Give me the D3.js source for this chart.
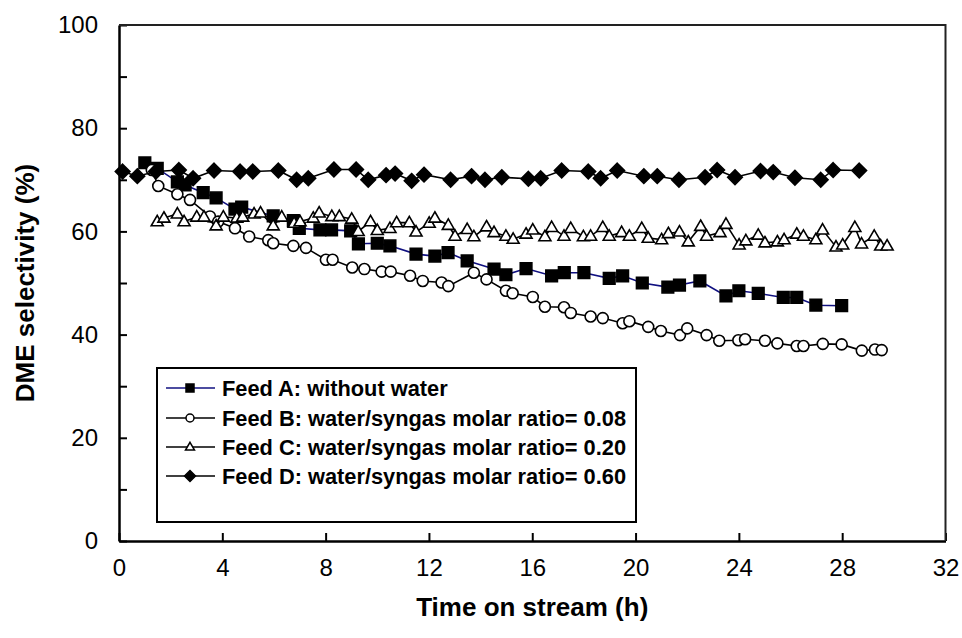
<!DOCTYPE html>
<html>
<head>
<meta charset="utf-8">
<script src="https://cdn.jsdelivr.net/npm/d3@7"></script>
<style>
  body { margin: 0; background: #fff; }
  svg { display: block; }
  text { font-family: "Liberation Sans", Arial, sans-serif; }
</style>
</head>
<body>
<svg id="chart" width="962" height="638"></svg>
<script>
// Feed A: without water
const timeA = [1.0, 1.48, 2.26, 2.56, 3.26, 3.76, 4.49, 4.75, 5.97, 6.75, 6.98, 7.78, 8.23, 8.97, 9.27, 10.0, 10.49, 11.5, 12.23, 12.74, 13.48, 14.52, 14.98, 15.76, 16.75, 17.24, 18.0, 18.98, 19.5, 20.26, 21.25, 21.7, 22.49, 23.5, 24.0, 24.75, 25.72, 26.24, 26.98, 27.98];
const selA  = [73.3, 72.2, 69.6, 69.0, 67.5, 66.5, 64.3, 64.7, 63.0, 62.1, 60.6, 60.3, 60.3, 60.1, 57.6, 57.7, 57.2, 55.6, 55.2, 55.9, 54.3, 52.7, 51.6, 52.8, 51.4, 52.0, 52.0, 50.9, 51.4, 50.0, 49.2, 49.6, 50.4, 47.5, 48.5, 48.0, 47.2, 47.2, 45.7, 45.6];

// Feed B: ratio 0.08
const timeB = [1.27, 1.52, 2.26, 2.75, 3.52, 3.84, 4.49, 5.04, 5.78, 5.97, 6.75, 7.24, 8.01, 8.27, 9.03, 9.5, 10.17, 10.52, 11.27, 11.76, 12.49, 12.75, 13.74, 14.23, 14.98, 15.24, 16.02, 16.49, 17.23, 17.49, 18.26, 18.73, 19.5, 19.76, 20.49, 20.98, 21.72, 22.0, 22.75, 23.24, 23.98, 24.24, 25.01, 25.49, 26.24, 26.5, 27.25, 27.98, 28.76, 29.27, 29.53];
const selB  = [71.9, 68.8, 67.2, 66.1, 62.9, 61.9, 60.6, 59.0, 58.3, 57.7, 57.2, 56.8, 54.5, 54.5, 53.0, 52.7, 52.2, 52.2, 51.4, 50.4, 50.1, 49.4, 52.0, 50.7, 48.5, 48.0, 47.3, 45.4, 45.3, 44.2, 43.5, 43.2, 42.2, 42.6, 41.5, 40.7, 39.9, 41.2, 39.9, 38.8, 38.9, 39.1, 38.8, 38.3, 37.8, 37.8, 38.2, 38.1, 36.9, 37.1, 37.0];

// Feed C: ratio 0.20
const timeC = [1.48, 1.74, 2.26, 2.52, 3.01, 3.29, 3.76, 4.04, 4.56, 4.79, 5.23, 5.48, 5.97, 6.3, 6.78, 7.01, 7.52, 7.75, 8.24, 8.53, 9.01, 9.26, 9.74, 10.0, 10.49, 10.75, 11.24, 11.5, 12.01, 12.23, 12.75, 13.01, 13.48, 13.74, 14.23, 14.52, 14.98, 15.26, 15.76, 16.02, 16.49, 16.75, 17.23, 17.49, 17.98, 18.26, 18.73, 18.98, 19.46, 19.76, 20.24, 20.49, 21.01, 21.27, 21.7, 22.04, 22.52, 22.75, 23.27, 23.5, 24.01, 24.27, 24.75, 25.01, 25.49, 25.75, 26.24, 26.5, 26.98, 27.24, 27.76, 28.02, 28.49, 28.75, 29.24, 29.49, 29.74];
const selC  = [61.9, 62.6, 63.4, 61.9, 62.8, 62.8, 61.1, 62.8, 62.6, 62.8, 63.4, 63.6, 61.1, 62.8, 61.6, 61.9, 62.6, 63.6, 62.9, 62.9, 62.4, 60.0, 61.9, 60.2, 60.6, 61.7, 61.7, 59.9, 61.6, 62.6, 61.2, 59.1, 60.4, 59.0, 60.9, 59.8, 59.1, 58.5, 59.5, 60.3, 59.0, 60.8, 59.1, 60.6, 59.0, 59.1, 60.8, 59.1, 59.8, 59.1, 60.6, 58.7, 58.4, 59.6, 59.9, 58.0, 61.0, 59.1, 59.8, 61.4, 57.4, 58.2, 59.3, 57.8, 58.0, 58.4, 59.5, 59.1, 58.4, 60.3, 57.0, 57.4, 60.8, 57.6, 59.1, 57.2, 57.2];

// Feed D: ratio 0.60
const timeD = [0.14, 0.71, 1.43, 2.32, 2.87, 3.68, 4.69, 5.18, 6.17, 6.88, 7.33, 8.32, 9.18, 9.65, 10.34, 10.69, 11.33, 11.81, 12.84, 13.65, 14.17, 14.82, 15.85, 16.33, 17.14, 18.17, 18.65, 19.29, 20.32, 20.84, 21.68, 22.69, 23.16, 23.85, 24.84, 25.33, 26.17, 27.17, 27.65, 28.66];
const selD  = [71.6, 70.7, 71.6, 71.9, 70.3, 71.8, 71.6, 71.6, 71.8, 70.0, 70.3, 72.0, 72.0, 70.0, 70.9, 71.2, 69.8, 71.0, 70.0, 70.7, 70.0, 70.5, 70.2, 70.3, 71.8, 71.6, 70.3, 71.8, 70.7, 70.7, 70.0, 70.5, 71.9, 70.5, 71.7, 71.5, 70.4, 70.0, 71.9, 71.8];

const legendLabels = [
  "Feed A: without water",
  "Feed B: water/syngas molar ratio= 0.08",
  "Feed C: water/syngas molar ratio= 0.20",
  "Feed D: water/syngas molar ratio= 0.60"
];
const xTicks = [0, 4, 8, 12, 16, 20, 24, 28, 32];
const yTicks = [0, 10, 20, 30, 40, 50, 60, 70, 80, 90, 100];

const svg = d3.select("#chart");
const plotL = 119, plotR = 945.5, plotT = 25, plotB = 541;

const x = d3.scaleLinear().domain([0, 32]).range([plotL, plotR]);
const y = d3.scaleLinear().domain([0, 100]).range([plotB, plotT]);

// marker shapes
function markerPath(kind, s) {
  if (kind === "square") return `M${-s},${-s}H${s}V${s}H${-s}Z`;
  if (kind === "diamond") return `M0,${-s}L${s},0L0,${s}L${-s},0Z`;
  if (kind === "triangle") {
    const h = s * 1.732;
    return `M0,${-h * 0.6}L${s},${h * 0.4}L${-s},${h * 0.4}Z`;
  }
  return d3.arc()({ innerRadius: 0, outerRadius: s, startAngle: 0, endAngle: 2 * Math.PI });
}

const series = [
  { t: timeA, v: selA, line: "#101080", kind: "square", fill: "#000", size: 5.8, lsize: 4 },
  { t: timeB, v: selB, line: "#000", kind: "circle", fill: "#fff", size: 5.5, lsize: 4 },
  { t: timeC, v: selC, line: "#000", kind: "triangle", fill: "#fff", size: 6, lsize: 4.5 },
  { t: timeD, v: selD, line: "#000", kind: "diamond", fill: "#000", size: 7.3, lsize: 5.5 }
];

// axes
const xAxis = d3.axisBottom(x).tickValues(xTicks).tickSizeInner(-8).tickSizeOuter(0).tickPadding(18);
const yAxis = d3.axisLeft(y).tickValues(yTicks).tickSizeInner(-8).tickSizeOuter(0).tickPadding(21)
  .tickFormat(d => d % 20 === 0 ? d : "");

const gx = svg.append("g").attr("transform", `translate(0,${plotB})`).call(xAxis);
const gy = svg.append("g").attr("transform", `translate(${plotL},0)`).call(yAxis);
[gx, gy].forEach(g => {
  g.select(".domain").attr("stroke", "#000").attr("stroke-width", 2.5);
  g.selectAll(".tick line").attr("stroke", "#000").attr("stroke-width", 2);
  g.selectAll(".tick text").attr("fill", "#000").style("font-size", "24px")
    .style("font-family", "'Liberation Sans', Arial, sans-serif");
});

// top and right frame
svg.append("path")
  .attr("d", `M${plotL},${plotT}H${plotR}V${plotB}`)
  .attr("fill", "none").attr("stroke", "#222").attr("stroke-width", 2);

// axis titles
svg.append("text")
  .attr("x", (plotL + plotR) / 2).attr("y", 616)
  .attr("text-anchor", "middle")
  .style("font-size", "26px").style("font-weight", "bold")
  .text("Time on stream (h)");

svg.append("text")
  .attr("transform", `translate(34,${(plotT + plotB) / 2}) rotate(-90)`)
  .attr("text-anchor", "middle")
  .style("font-size", "26px").style("font-weight", "bold")
  .text("DME selectivity (%)");

// lines and markers
const line = d3.line().x(d => x(d[0])).y(d => y(d[1]));
series.forEach(s => {
  const pts = s.t.map((t, i) => [t, s.v[i]]);
  svg.append("path").datum(pts)
    .attr("d", line).attr("fill", "none")
    .attr("stroke", s.line).attr("stroke-width", 1.6);
  svg.append("g").selectAll("path").data(pts).enter().append("path")
    .attr("d", markerPath(s.kind, s.size))
    .attr("transform", d => `translate(${x(d[0])},${y(d[1])})`)
    .attr("fill", s.fill).attr("stroke", "#000").attr("stroke-width", 1.6);
});

// legend
const lg = svg.append("g");
lg.append("rect")
  .attr("x", 157).attr("y", 368).attr("width", 479).attr("height", 154)
  .attr("fill", "#fff").attr("stroke", "#000").attr("stroke-width", 2);
const rowY = [388, 418, 447, 476];
series.forEach((s, i) => {
  lg.append("line")
    .attr("x1", 166).attr("x2", 215).attr("y1", rowY[i]).attr("y2", rowY[i])
    .attr("stroke", s.line).attr("stroke-width", 1.6);
  lg.append("path")
    .attr("d", markerPath(s.kind, s.lsize))
    .attr("transform", `translate(190,${rowY[i]})`)
    .attr("fill", s.fill).attr("stroke", "#000").attr("stroke-width", 1.5);
  lg.append("text")
    .attr("x", 222).attr("y", rowY[i] + 7.5)
    .style("font-size", "21.8px").style("font-weight", "bold")
    .text(legendLabels[i]);
});
</script>
</body>
</html>
